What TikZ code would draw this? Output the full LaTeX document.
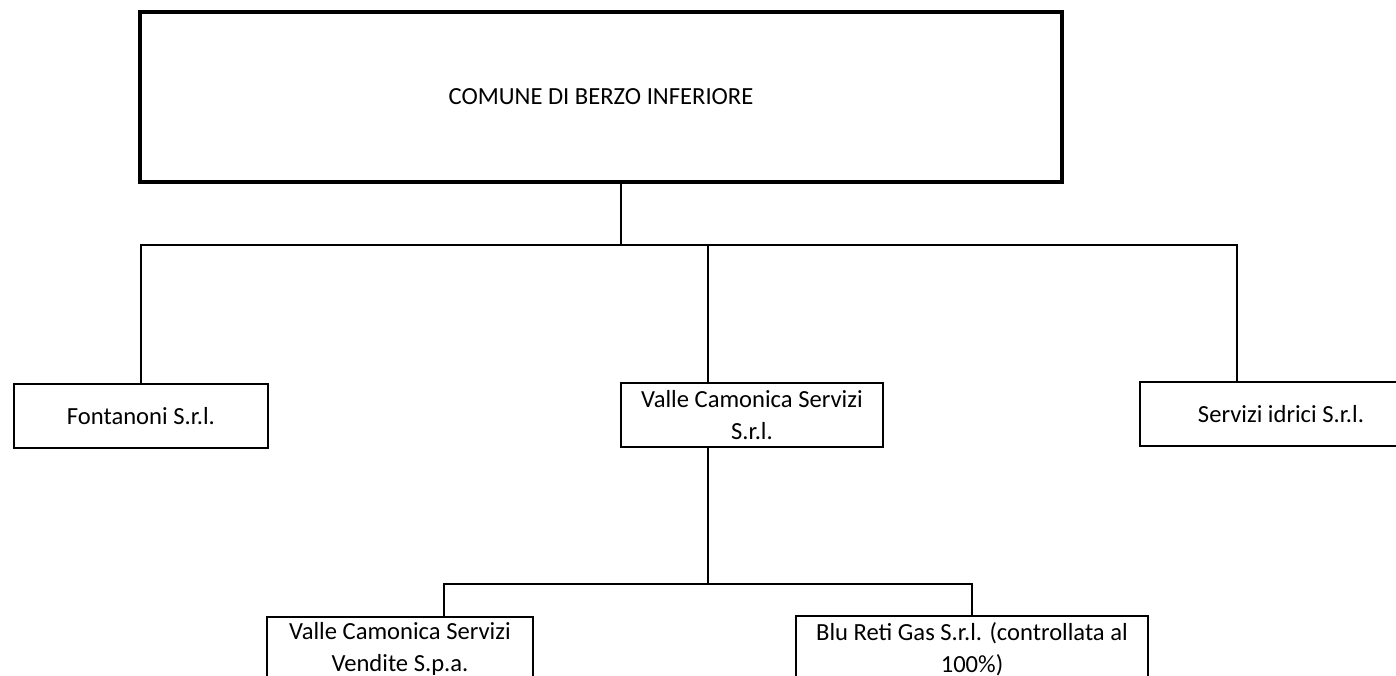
\documentclass[tikz,border=0pt]{standalone}
\usepackage{fontspec}
\setmainfont{Carlito}

\begin{document}
\begin{tikzpicture}[x=1pt,y=-1pt,
	box/.style={draw,line width=1.5pt,inner sep=0pt,align=center,minimum height=64pt,font=\fontsize{24.6}{31.5}\selectfont},
	conn/.style={line width=1.5pt}]
%			\useasboundingbox (0,0) rectangle (1396,676);
			\clip (0,0) rectangle (1396,676);
			\node[box,line width=3.5pt,minimum width=922pt,minimum height=170pt] (comune) at (601,97) {COMUNE DI BERZO INFERIORE};
			\node[box,minimum width=254pt] (fontanoni) at (141,416) {Fontanoni S.r.l.};
			\node[box,minimum width=262pt] (vcs) at (752,415) {Valle Camonica Servizi\\S.r.l.};
			\node[box,minimum width=282pt] (idrici) at (1281,414) {Servizi idrici S.r.l.};
			\node[box,minimum width=266pt] (vendite) at (400,649) {Valle Camonica Servizi\\Vendite S.p.a.};
			\node[box,minimum width=352pt,minimum height=66pt] (blureti) at (972,649) {Blu Reti Gas S.r.l. (controllata al\\100\%)};
			\coordinate (topjoin) at (621,245);
			\coordinate (midjoin) at (708,245);
			\coordinate (rightjoin) at (1237,245);
			\coordinate (lowjoin) at (708,584);
			\coordinate (lowleft) at (444,584);
			\draw[conn] (comune.south -| topjoin) -- (topjoin);
			\draw[conn] (fontanoni.north) |- (rightjoin) -- (idrici.north -| rightjoin);
			\draw[conn] (midjoin) -- (vcs.north -| midjoin);
			\draw[conn] (vcs.south -| lowjoin) -- (lowjoin);
			\draw[conn] (vendite.north -| lowleft) |- (blureti.north |- lowleft) -- (blureti.north);
		\end{tikzpicture}
\end{document}
